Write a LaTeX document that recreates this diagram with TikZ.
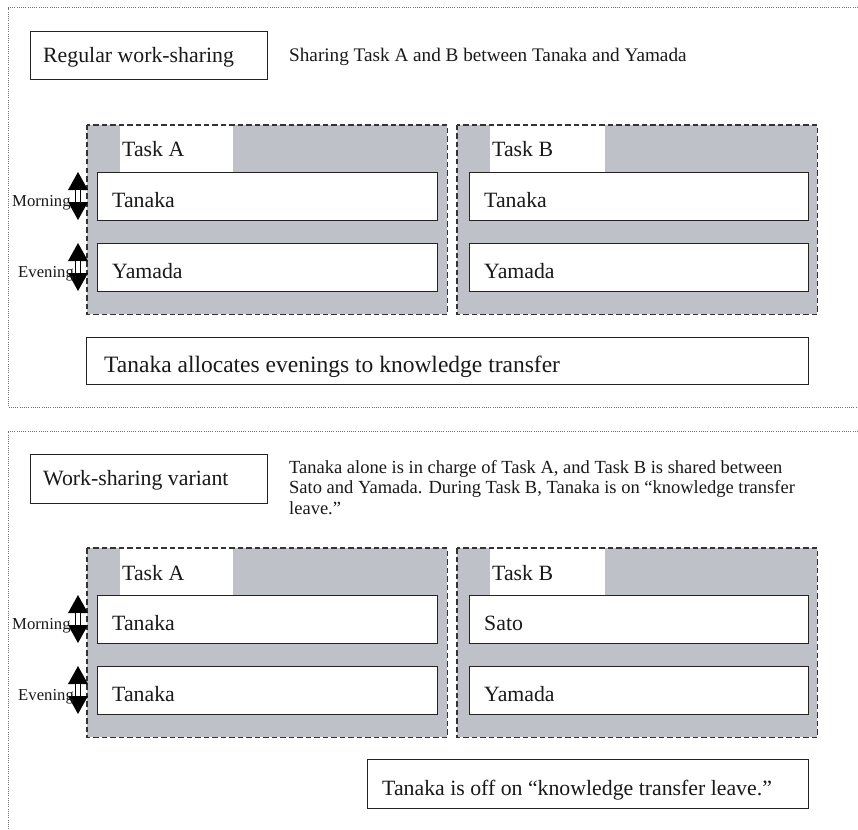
\documentclass[tikz,border=0pt]{standalone}
\usepackage{fontspec}
\setmainfont{Liberation Serif}
\definecolor{grpgray}{RGB}{190,194,200}
\definecolor{lineclr}{RGB}{35,35,35}
\newcommand\mainsize{\fontsize{21.8}{26}\selectfont}
\newcommand\notesize{\fontsize{23.5}{28}\selectfont}
\newcommand\descsize{\fontsize{19.2}{21}\selectfont}
\newcommand\descsizeb{\fontsize{18.5}{20.5}\selectfont}
\newcommand\lblsize{\fontsize{16.7}{20}\selectfont}
\tikzset{
  frameline/.style={draw=black!55, line width=1pt, dash pattern=on 1pt off 1.2pt},
  grpfill/.style={fill=grpgray, draw=none, anchor=north west, minimum width=360pt, minimum height=189pt, inner sep=0pt},
  grpborder/.style={draw=black!80, line width=1.3pt, dash pattern=on 5.5pt off 3pt},
  tabbox/.style={fill=white, draw=none, anchor=north west, minimum height=47pt, inner sep=0pt},
  rowbox/.style={draw=lineclr, line width=0.9pt, fill=white, anchor=north west, minimum height=48pt, inner sep=0pt},
  txt/.style={anchor=base west, inner sep=0pt, font=\mainsize, text=black!90},
  desc/.style={anchor=base west, inner sep=0pt, font=\descsize, text=black!90, align=left},
  lbl/.style={anchor=base west, inner sep=0pt, font=\lblsize, text=black!90},
}
\newcommand\vArrowShape[3]{%
  \fill[black] (#1,#2) -- ({#1-10},{#2+18}) -- ({#1+10},{#2+18}) -- cycle;
  \fill[black] (#1,#3) -- ({#1-10},{#3-18}) -- ({#1+10},{#3-18}) -- cycle;
  \draw[black, line width=0.8pt, fill=white] ({#1-2.5},{#2+17.5}) rectangle ({#1+2.5},{#3-17.5});
}
\begin{document}
\begin{tikzpicture}[x=1pt,y=-1pt]
\useasboundingbox (0,0) rectangle (858,829);
\fill[white] (0,0) rectangle (858,829);

% ---------------- Section 1 ----------------
\draw[frameline] (858,8) -- (8,8) -- (8,407) -- (858,407);
\node[rowbox, minimum width=237pt] (title1) at (30,31) {};
\node[txt] (title1t) at (43,63) {Regular work-sharing};
\node[desc] (desc1) at (289,62) {Sharing Task A and B between Tanaka and Yamada};

% Task A group
\node[grpfill] (gA1) at (87,125) {};
\node[tabbox, minimum width=113pt] (tabA1) at (120,125) {};
\draw[grpborder] (gA1.north west) rectangle (gA1.south east);
\node[txt] (tabA1t) at (122,157) {Task A};
\node[rowbox, minimum width=340pt] (a1m) at (97,172) {};
\node[txt] (a1mt) at (112,207) {Tanaka};
\node[rowbox, minimum width=340pt] (a1e) at (97,243) {};
\node[txt] (a1et) at (112,278) {Yamada};

% Task B group
\node[grpfill] (gB1) at (457,125) {};
\node[tabbox, minimum width=115pt] (tabB1) at (490,125) {};
\draw[grpborder] (gB1.north west) rectangle (gB1.south east);
\node[txt] (tabB1t) at (492,157) {Task B};
\node[rowbox, minimum width=339pt] (b1m) at (469,172) {};
\node[txt] (b1mt) at (484,207) {Tanaka};
\node[rowbox, minimum width=339pt] (b1e) at (469,243) {};
\node[txt] (b1et) at (484,278) {Yamada};

% Morning / Evening
\vArrowShape{78}{172}{220}
\vArrowShape{78}{243}{291}
\node[lbl] (morn1) at (12,206) {Morning};
\node[lbl] (even1) at (18,277) {Evening};

\node[rowbox, minimum width=722pt, minimum height=47pt] (note1) at (86,337) {};
\node[txt, font=\notesize] (note1t) at (104,372) {Tanaka allocates evenings to knowledge transfer};

% ---------------- Section 2 ----------------
\begin{scope}[shift={(0,423)}]
\draw[frameline] (858,8) -- (8,8) -- (8,406);
\node[rowbox, minimum width=237pt, minimum height=49pt] (title2) at (30,31) {};
\node[txt] (title2t) at (43,62.5) {Work-sharing variant};
\node[desc, font=\descsizeb] (desc2) at (289,91) {Tanaka alone is in charge of Task A, and Task B is shared between\\Sato and Yamada. During Task B, Tanaka is on “knowledge transfer\\leave.”};

\node[grpfill] (gA2) at (87,125) {};
\node[tabbox, minimum width=113pt] (tabA2) at (120,125) {};
\draw[grpborder] (gA2.north west) rectangle (gA2.south east);
\node[txt] (tabA2t) at (122,157) {Task A};
\node[rowbox, minimum width=340pt] (a2m) at (97,172) {};
\node[txt] (a2mt) at (112,207) {Tanaka};
\node[rowbox, minimum width=340pt] (a2e) at (97,243) {};
\node[txt] (a2et) at (112,278) {Tanaka};

\node[grpfill] (gB2) at (457,125) {};
\node[tabbox, minimum width=115pt] (tabB2) at (490,125) {};
\draw[grpborder] (gB2.north west) rectangle (gB2.south east);
\node[txt] (tabB2t) at (492,157) {Task B};
\node[rowbox, minimum width=339pt] (b2m) at (469,172) {};
\node[txt] (b2mt) at (484,207) {Sato};
\node[rowbox, minimum width=339pt] (b2e) at (469,243) {};
\node[txt] (b2et) at (484,278) {Yamada};

\vArrowShape{78}{172}{220}
\vArrowShape{78}{243}{291}
\node[lbl] (morn2) at (12,206) {Morning};
\node[lbl] (even2) at (18,277) {Evening};

\node[rowbox, minimum width=441pt, minimum height=49pt] (note2) at (367,336) {};
\node[txt] (note2t) at (382,372) {Tanaka is off on “knowledge transfer leave.”};
\end{scope}
\end{tikzpicture}
\end{document}
